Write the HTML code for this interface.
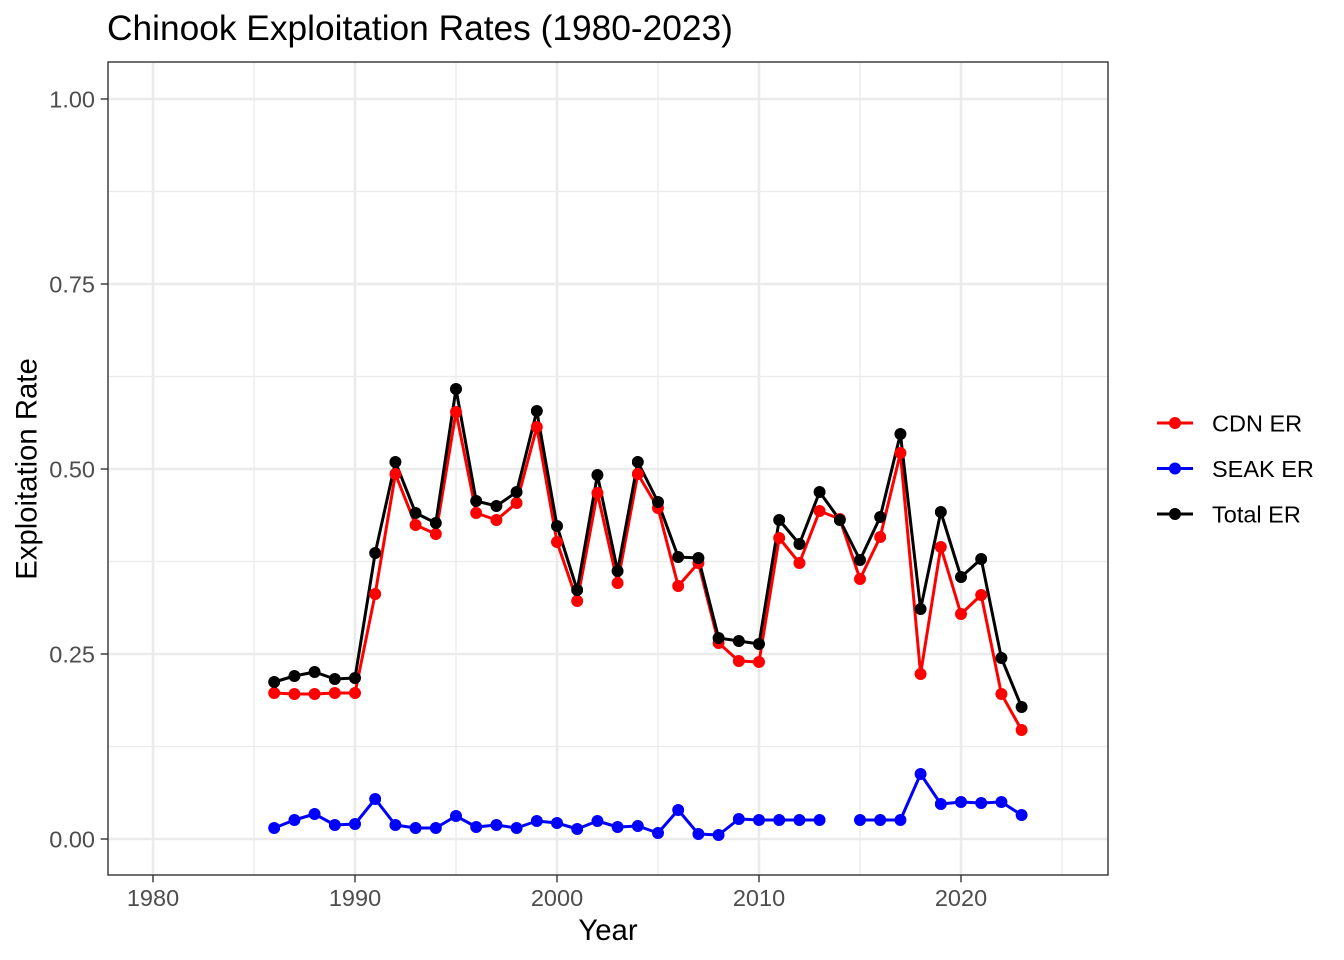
<!DOCTYPE html>
<html>
<head>
<meta charset="utf-8">
<style>
  html, body { margin: 0; padding: 0; background: #ffffff; }
  svg { display: block; }
  text { font-family: "Liberation Sans", Arial, sans-serif; }
</style>
</head>
<body>
<svg width="1344" height="960" viewBox="0 0 1344 960" xmlns="http://www.w3.org/2000/svg">
  <defs>
    <marker id="mr" viewBox="0 0 12 12" refX="6" refY="6" markerWidth="12" markerHeight="12" markerUnits="userSpaceOnUse"><circle cx="6" cy="6" r="6" fill="#FF0000"/></marker>
    <marker id="mb" viewBox="0 0 12 12" refX="6" refY="6" markerWidth="12" markerHeight="12" markerUnits="userSpaceOnUse"><circle cx="6" cy="6" r="6" fill="#0000FF"/></marker>
    <marker id="mk" viewBox="0 0 12 12" refX="6" refY="6" markerWidth="12" markerHeight="12" markerUnits="userSpaceOnUse"><circle cx="6" cy="6" r="6" fill="#000000"/></marker>
    <clipPath id="pc"><rect x="108" y="62" width="1000" height="813"/></clipPath>
  </defs>

  <rect x="0" y="0" width="1344" height="960" fill="#ffffff"/>

  <!-- title -->
  <text x="107" y="40" font-size="35.3" fill="#000000">Chinook Exploitation Rates (1980-2023)</text>

  <!-- panel background -->
  <rect x="108" y="62" width="1000" height="813" fill="#ffffff"/>

  <!-- minor gridlines -->
  <g stroke="#EBEBEB" stroke-width="1.3" fill="none">
    <line x1="108" x2="1108" y1="746.5" y2="746.5"/>
    <line x1="108" x2="1108" y1="561.5" y2="561.5"/>
    <line x1="108" x2="1108" y1="376.5" y2="376.5"/>
    <line x1="108" x2="1108" y1="191.5" y2="191.5"/>
    <line y1="62" y2="875" x1="254" x2="254"/>
    <line y1="62" y2="875" x1="456" x2="456"/>
    <line y1="62" y2="875" x1="658" x2="658"/>
    <line y1="62" y2="875" x1="860" x2="860"/>
    <line y1="62" y2="875" x1="1062" x2="1062"/>
  </g>
  <!-- major gridlines -->
  <g stroke="#EBEBEB" stroke-width="2.6" fill="none">
    <line x1="108" x2="1108" y1="839" y2="839"/>
    <line x1="108" x2="1108" y1="654" y2="654"/>
    <line x1="108" x2="1108" y1="469" y2="469"/>
    <line x1="108" x2="1108" y1="284" y2="284"/>
    <line x1="108" x2="1108" y1="99" y2="99"/>
    <line y1="62" y2="875" x1="153" x2="153"/>
    <line y1="62" y2="875" x1="355" x2="355"/>
    <line y1="62" y2="875" x1="557" x2="557"/>
    <line y1="62" y2="875" x1="759" x2="759"/>
    <line y1="62" y2="875" x1="961" x2="961"/>
  </g>

  <g clip-path="url(#pc)">
    <!-- lines -->
    <g fill="none" stroke-width="3" stroke-linejoin="round" stroke-linecap="butt">
      <polyline stroke="#FF0000" points="274.2,693 294.4,694 314.6,694 334.8,693 355,693 375.2,594 395.4,474 415.6,525 435.8,534 456,412 476.2,513 496.4,520 516.6,503 536.8,427 557,542 577.2,601 597.4,493 617.6,583 637.8,474 658,508 678.2,586 698.4,563 718.6,643 738.8,661 759,662 779.2,538 799.4,563 819.6,511 839.8,519 860,579 880.2,537 900.4,453 920.6,674 940.8,547 961,614 981.2,595 1001.4,694 1021.6,730"/>
      <polyline stroke="#0000FF" points="274.2,828 294.4,820 314.6,814 334.8,825 355,824 375.2,799 395.4,825 415.6,828 435.8,828 456,816 476.2,827 496.4,825 516.6,828 536.8,821 557,823 577.2,829 597.4,821 617.6,827 637.8,826 658,833 678.2,810 698.4,834 718.6,835 738.8,819 759,820 779.2,820 799.4,820 819.6,820"/>
      <polyline stroke="#0000FF" points="860,820 880.2,820 900.4,820 920.6,774 940.8,804 961,802 981.2,803 1001.4,802 1021.6,815"/>
      <polyline stroke="#000000" points="274.2,682 294.4,676 314.6,672 334.8,679 355,678 375.2,553 395.4,462 415.6,513 435.8,523 456,389 476.2,501 496.4,506 516.6,492 536.8,411 557,526 577.2,590 597.4,475 617.6,571 637.8,462 658,502 678.2,557 698.4,558 718.6,638 738.8,641 759,644 779.2,520 799.4,544 819.6,492 839.8,520 860,560 880.2,517 900.4,434 920.6,609 940.8,512 961,577 981.2,559 1001.4,658 1021.6,707"/>
    </g>
    <!-- points -->
    <g fill="none" stroke="none">
      <polyline marker-start="url(#mr)" marker-mid="url(#mr)" marker-end="url(#mr)" points="274.2,693 294.4,694 314.6,694 334.8,693 355,693 375.2,594 395.4,474 415.6,525 435.8,534 456,412 476.2,513 496.4,520 516.6,503 536.8,427 557,542 577.2,601 597.4,493 617.6,583 637.8,474 658,508 678.2,586 698.4,563 718.6,643 738.8,661 759,662 779.2,538 799.4,563 819.6,511 839.8,519 860,579 880.2,537 900.4,453 920.6,674 940.8,547 961,614 981.2,595 1001.4,694 1021.6,730"/>
      <polyline marker-start="url(#mb)" marker-mid="url(#mb)" marker-end="url(#mb)" points="274.2,828 294.4,820 314.6,814 334.8,825 355,824 375.2,799 395.4,825 415.6,828 435.8,828 456,816 476.2,827 496.4,825 516.6,828 536.8,821 557,823 577.2,829 597.4,821 617.6,827 637.8,826 658,833 678.2,810 698.4,834 718.6,835 738.8,819 759,820 779.2,820 799.4,820 819.6,820"/>
      <polyline marker-start="url(#mb)" marker-mid="url(#mb)" marker-end="url(#mb)" points="860,820 880.2,820 900.4,820 920.6,774 940.8,804 961,802 981.2,803 1001.4,802 1021.6,815"/>
      <polyline marker-start="url(#mk)" marker-mid="url(#mk)" marker-end="url(#mk)" points="274.2,682 294.4,676 314.6,672 334.8,679 355,678 375.2,553 395.4,462 415.6,513 435.8,523 456,389 476.2,501 496.4,506 516.6,492 536.8,411 557,526 577.2,590 597.4,475 617.6,571 637.8,462 658,502 678.2,557 698.4,558 718.6,638 738.8,641 759,644 779.2,520 799.4,544 819.6,492 839.8,520 860,560 880.2,517 900.4,434 920.6,609 940.8,512 961,577 981.2,559 1001.4,658 1021.6,707"/>
    </g>
  </g>

  <!-- panel border -->
  <rect x="108" y="62" width="1000" height="813" fill="none" stroke="#333333" stroke-width="1.4"/>

  <!-- ticks -->
  <g stroke="#333333" stroke-width="1.4">
    <line x1="100.7" x2="108" y1="839" y2="839"/>
    <line x1="100.7" x2="108" y1="654" y2="654"/>
    <line x1="100.7" x2="108" y1="469" y2="469"/>
    <line x1="100.7" x2="108" y1="284" y2="284"/>
    <line x1="100.7" x2="108" y1="99" y2="99"/>
    <line y1="875" y2="882.3" x1="153" x2="153"/>
    <line y1="875" y2="882.3" x1="355" x2="355"/>
    <line y1="875" y2="882.3" x1="557" x2="557"/>
    <line y1="875" y2="882.3" x1="759" x2="759"/>
    <line y1="875" y2="882.3" x1="961" x2="961"/>
  </g>

  <!-- tick labels -->
  <g font-size="23.5" fill="#4D4D4D" text-anchor="end">
    <text x="95" y="847.4">0.00</text>
    <text x="95" y="662.4">0.25</text>
    <text x="95" y="477.4">0.50</text>
    <text x="95" y="292.4">0.75</text>
    <text x="95" y="107.4">1.00</text>
  </g>
  <g font-size="23.5" fill="#4D4D4D" text-anchor="middle">
    <text x="153" y="906">1980</text>
    <text x="355" y="906">1990</text>
    <text x="557" y="906">2000</text>
    <text x="759" y="906">2010</text>
    <text x="961" y="906">2020</text>
  </g>

  <!-- axis titles -->
  <text x="608" y="940" font-size="29.3" fill="#000000" text-anchor="middle">Year</text>
  <text transform="translate(36.5,469) rotate(-90)" font-size="29.3" fill="#000000" text-anchor="middle">Exploitation Rate</text>

  <!-- legend -->
  <g stroke-width="3">
    <line x1="1157" x2="1193" y1="423" y2="423" stroke="#FF0000"/>
    <line x1="1157" x2="1193" y1="468.5" y2="468.5" stroke="#0000FF"/>
    <line x1="1157" x2="1193" y1="514" y2="514" stroke="#000000"/>
  </g>
  <circle cx="1175" cy="423" r="6" fill="#FF0000"/>
  <circle cx="1175" cy="468.5" r="6" fill="#0000FF"/>
  <circle cx="1175" cy="514" r="6" fill="#000000"/>
  <g font-size="23.5" fill="#000000">
    <text x="1212" y="431.4">CDN ER</text>
    <text x="1212" y="476.9">SEAK ER</text>
    <text x="1212" y="522.4">Total ER</text>
  </g>
</svg>
</body>
</html>
